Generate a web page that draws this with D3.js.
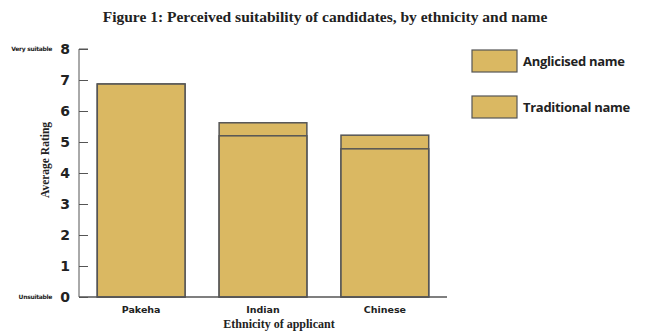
<!DOCTYPE html>
<html>
<head>
<meta charset="utf-8">
<script src="https://cdn.jsdelivr.net/npm/d3@7"></script>
<style>
  body { margin: 0; background: #fff; }
</style>
</head>
<body>
<div id="chart"></div>
<script>
const ethnicities = ["Pakeha", "Indian", "Chinese"];
const anglicised = [6.87, 5.62, 5.22];
const traditional = [6.87, 5.2, 4.78];
const seriesNames = ["Anglicised name", "Traditional name"];
const yTicks = [0, 1, 2, 3, 4, 5, 6, 7, 8];

const width = 645;
const height = 332;
const margin = { top: 49, right: 198, bottom: 35, left: 79 };
const innerW = width - margin.left - margin.right;
const innerH = height - margin.top - margin.bottom;
const barFill = "#dab862";
const barStroke = "#555";

const svg = d3.select("#chart")
    .append("svg")
    .attr("width", width)
    .attr("height", height);

svg.append("text")
    .attr("x", 325)
    .attr("y", 22)
    .attr("text-anchor", "middle")
    .style("font-family", "'Liberation Serif', serif")
    .style("font-weight", "bold")
    .style("font-size", "15.5px")
    .attr("fill", "#222")
    .text("Figure 1: Perceived suitability of candidates, by ethnicity and name");

const g = svg.append("g")
    .attr("transform", `translate(${margin.left},${margin.top})`);

const x = d3.scaleBand()
    .domain(ethnicities)
    .range([0, innerW])
    .paddingInner(0.28)
    .paddingOuter(0.15);

const y = d3.scaleLinear()
    .domain([0, 8])
    .range([innerH, 0]);

// bars: anglicised behind, traditional in front
[anglicised, traditional].forEach(values => {
    g.selectAll(null)
        .data(values)
        .enter()
        .append("rect")
        .attr("x", (d, i) => x(ethnicities[i]))
        .attr("y", d => y(d))
        .attr("width", x.bandwidth())
        .attr("height", d => innerH - y(d))
        .attr("fill", barFill)
        .attr("stroke", barStroke)
        .attr("stroke-width", 1.5);
});

// y axis with inward ticks
const yAxis = g.append("g")
    .call(d3.axisRight(y).tickValues(yTicks).tickSize(9).tickFormat(""));
yAxis.select(".domain").attr("stroke", "#555").attr("d", `M9,0H0V${innerH}`);
yAxis.selectAll(".tick line").attr("stroke", "#555");

g.selectAll(".ylab")
    .data(yTicks)
    .enter()
    .append("text")
    .attr("x", -9)
    .attr("y", d => y(d))
    .attr("dy", "0.36em")
    .attr("text-anchor", "end")
    .style("font-family", "'DejaVu Sans', sans-serif")
    .style("font-weight", "bold")
    .style("font-size", "14px")
    .attr("fill", "#222")
    .text(d => d);

g.append("text")
    .attr("x", -27)
    .attr("y", y(8))
    .attr("dy", "0.3em")
    .attr("text-anchor", "end")
    .style("font-family", "'DejaVu Sans', sans-serif")
    .style("font-weight", "bold")
    .style("font-size", "6px")
    .style("letter-spacing", "-0.3px")
    .attr("fill", "#222")
    .text("Very suitable");

g.append("text")
    .attr("x", -27)
    .attr("y", y(0))
    .attr("dy", "0.3em")
    .attr("text-anchor", "end")
    .style("font-family", "'DejaVu Sans', sans-serif")
    .style("font-weight", "bold")
    .style("font-size", "6px")
    .style("letter-spacing", "-0.3px")
    .attr("fill", "#222")
    .text("Unsuitable");

g.append("text")
    .attr("transform", `translate(-30,${innerH / 2 - 13}) rotate(-90)`)
    .attr("text-anchor", "middle")
    .style("font-family", "'Liberation Serif', serif")
    .style("font-weight", "bold")
    .style("font-size", "11.5px")
    .attr("fill", "#222")
    .text("Average Rating");

// x axis
g.append("line")
    .attr("x1", 0)
    .attr("x2", innerW)
    .attr("y1", innerH)
    .attr("y2", innerH)
    .attr("stroke", "#555")
    .attr("stroke-width", 1.5);

g.selectAll(".xlab")
    .data(ethnicities)
    .enter()
    .append("text")
    .attr("x", d => x(d) + x.bandwidth() / 2)
    .attr("y", innerH + 16)
    .attr("text-anchor", "middle")
    .style("font-family", "'DejaVu Sans', sans-serif")
    .style("font-weight", "bold")
    .style("font-size", "9.5px")
    .attr("fill", "#222")
    .text(d => d);

g.append("text")
    .attr("x", 200)
    .attr("y", innerH + 31)
    .attr("text-anchor", "middle")
    .style("font-family", "'Liberation Serif', serif")
    .style("font-weight", "bold")
    .style("font-size", "12px")
    .attr("fill", "#222")
    .text("Ethnicity of applicant");

// legend
const legend = svg.append("g")
    .attr("transform", "translate(472,50)");

legend.selectAll("rect")
    .data(seriesNames)
    .enter()
    .append("rect")
    .attr("x", 0)
    .attr("y", (d, i) => i * 46)
    .attr("width", 45)
    .attr("height", 22)
    .attr("fill", barFill)
    .attr("stroke", barStroke)
    .attr("stroke-width", 1.2);

legend.selectAll("text")
    .data(seriesNames)
    .enter()
    .append("text")
    .attr("x", 51)
    .attr("y", (d, i) => i * 46 + 11)
    .attr("dy", "0.35em")
    .style("font-family", "'Open Sans', sans-serif")
    .style("font-weight", "700")
    .style("font-size", "13px")
    .style("letter-spacing", "-0.3px")
    .attr("fill", "#222")
    .text(d => d);
</script>
</body>
</html>
